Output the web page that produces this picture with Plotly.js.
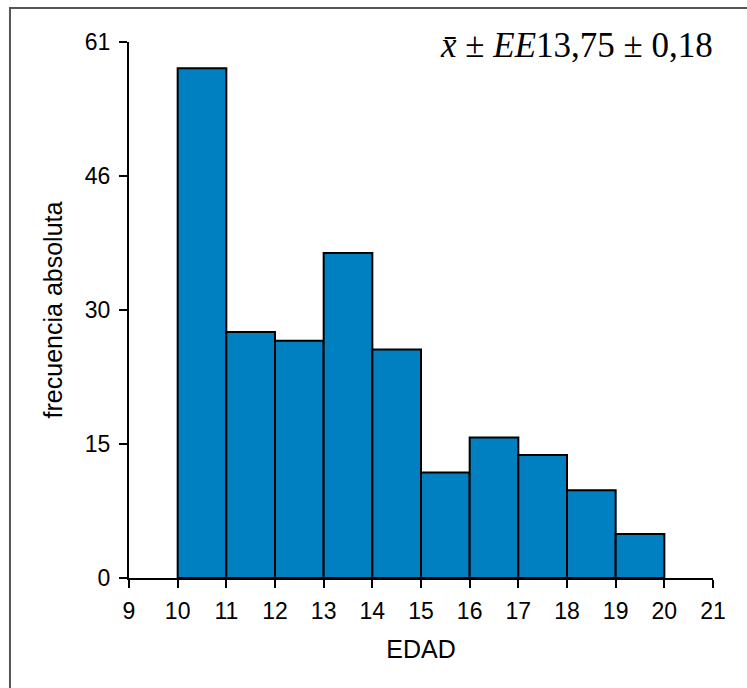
<!DOCTYPE html>
<html>
<head>
<meta charset="utf-8">
<script src="https://cdn.plot.ly/plotly-3.0.1.min.js"></script>
<style>
html, body { margin: 0; padding: 0; background: #fff; }
#chart { width: 747px; height: 688px; }
</style>
</head>
<body>
<div id="chart"></div>
<script>
// Bin starts (EDAD) and absolute frequencies
var binStarts = [10, 11, 12, 13, 14, 15, 16, 17, 18, 19];
var frequencies = [58, 28, 27, 37, 26, 12, 16, 14, 10, 5];
var yTickValues = [0, 15.25, 30.5, 45.75, 61];
var yTickLabels = ["0", "15", "30", "46", "61"];
var xTickValues = [9, 10, 11, 12, 13, 14, 15, 16, 17, 18, 19, 20, 21];
var statText = "<i>x\u0304</i> \u00b1 <i>EE</i>13,75 \u00b1 0,18";

var mids = binStarts.map(function (b) { return b + 0.5; });

var trace = {
  type: "bar",
  x: mids,
  y: frequencies,
  width: 1,
  marker: { color: "#0080C0", line: { color: "#000000", width: 2 } },
  hoverinfo: "x+y"
};

var layout = {
  width: 747,
  height: 688,
  margin: { l: 129, r: 34, t: 42, b: 110 },
  paper_bgcolor: "#ffffff",
  plot_bgcolor: "#ffffff",
  showlegend: false,
  font: { family: "Liberation Sans, Arial, sans-serif", size: 23, color: "#000" },
  xaxis: {
    range: [9, 21],
    tickmode: "array",
    tickvals: xTickValues,
    ticktext: xTickValues.map(String),
    ticks: "outside",
    ticklen: 8,
    tickwidth: 2,
    tickcolor: "#000",
    ticklabelstandoff: 3,
    showline: true,
    linecolor: "#000",
    linewidth: 2,
    showgrid: false,
    zeroline: false,
    tickfont: { size: 23 },
    title: { text: "EDAD", font: { size: 25 }, standoff: 18 }
  },
  yaxis: {
    range: [0, 61],
    tickmode: "array",
    tickvals: yTickValues,
    ticktext: yTickLabels,
    ticks: "outside",
    ticklen: 8,
    tickwidth: 2,
    tickcolor: "#000",
    ticklabelstandoff: 4,
    showline: true,
    linecolor: "#000",
    linewidth: 2,
    showgrid: false,
    zeroline: false,
    tickfont: { size: 23 },
    title: { text: "frecuencia absoluta", font: { size: 25 }, standoff: 15 }
  },
  shapes: [{
    type: "rect", xref: "paper", yref: "paper",
    x0: -0.2038, x1: 1.2, y0: -0.3, y1: 1.0634,
    line: { color: "#555555", width: 2 }, fillcolor: "rgba(0,0,0,0)", layer: "below"
  }],
  annotations: [{
    xref: "paper", yref: "paper",
    x: 1.003, y: 0.993, xanchor: "right", yanchor: "middle",
    text: statText, showarrow: false,
    font: { family: "Liberation Serif, Times New Roman, serif", size: 35, color: "#000" }
  }]
};

Plotly.newPlot("chart", [trace], layout, { displayModeBar: false, staticPlot: true });
</script>
</body>
</html>
